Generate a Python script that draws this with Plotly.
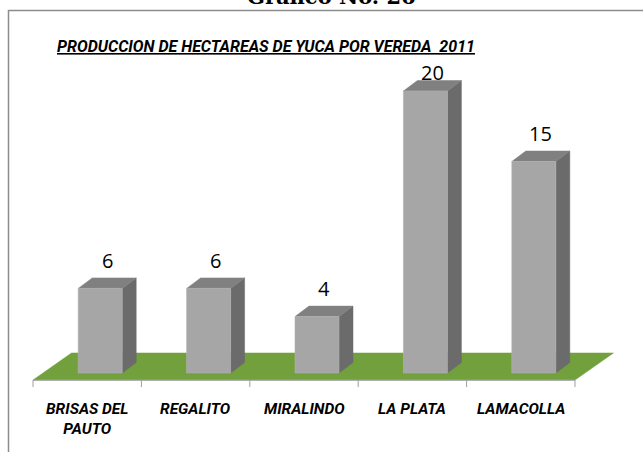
import plotly.graph_objects as go

# ---- data ----
categories = ["BRISAS DEL<br>PAUTO", "REGALITO", "MIRALINDO", "LA PLATA", "LAMACOLLA"]
values = [6, 6, 4, 20, 15]
title_text = "PRODUCCION DE HECTAREAS DE YUCA POR VEREDA  2011"
header_text = "Gráfico No. 26"

# ---- 3D geometry (in axis units) ----
W, H = 643, 452
PX_X = 108.4          # px per category
PX_Y = 14.1           # px per value unit
X0_PX = 87.2          # px of first category centre on the front edge
Y0_PX = 373.0         # px of value 0

bar_shift = 0.12      # bars sit back into the floor
bar_w = 0.406
side_dx, side_dy = 0.129, 0.745       # bar depth vector
floor_front = -0.5
floor_dx, floor_dy = 0.355, 1.92      # floor depth vector
label_gap = 2.0
label_max = 21.3      # labels are kept inside the plot area
n = len(categories)

x_range = [(0 - X0_PX) / PX_X, (W - X0_PX) / PX_X]
y_range = [(Y0_PX - H) / PX_Y, Y0_PX / PX_Y]

FRONT = "#A6A6A6"
TOP = "#808080"
SIDE = "#6B6B6B"
FLOOR = "#72A03C"

fig = go.Figure()

# floor
fx = [-0.5, n - 0.5, n - 0.5 + floor_dx, -0.5 + floor_dx, -0.5]
fy = [floor_front, floor_front, floor_front + floor_dy, floor_front + floor_dy, floor_front]
fig.add_trace(go.Scatter(x=fx, y=fy, fill="toself", fillcolor=FLOOR, mode="lines",
                         line=dict(color=FLOOR, width=0.5), hoverinfo="skip", showlegend=False))
# front edge line of floor
fig.add_trace(go.Scatter(x=[-0.5, n - 0.5], y=[floor_front, floor_front], mode="lines",
                         line=dict(color="#A0A0A0", width=1.2), hoverinfo="skip", showlegend=False))
# tick marks
tx, ty = [], []
for k in range(n + 1):
    tx += [k - 0.5, k - 0.5, None]
    ty += [floor_front, floor_front - 0.5, None]
fig.add_trace(go.Scatter(x=tx, y=ty, mode="lines", line=dict(color="#A0A0A0", width=1),
                         hoverinfo="skip", showlegend=False))

sx, sy, topx, topy, frx, fry = [], [], [], [], [], []
for i, v in enumerate(values):
    xl = i + bar_shift - bar_w / 2
    xr = i + bar_shift + bar_w / 2
    sx += [xr, xr + side_dx, xr + side_dx, xr, xr, None]
    sy += [0, side_dy, v + side_dy, v, 0, None]
    topx += [xl, xr, xr + side_dx, xl + side_dx, xl, None]
    topy += [v, v, v + side_dy, v + side_dy, v, None]
    frx += [xl, xr, xr, xl, xl, None]
    fry += [0, 0, v, v, 0, None]

fig.add_trace(go.Scatter(x=sx, y=sy, fill="toself", fillcolor=SIDE, mode="lines",
                         line=dict(color=SIDE, width=0.5), hoverinfo="skip", showlegend=False))
fig.add_trace(go.Scatter(x=topx, y=topy, fill="toself", fillcolor=TOP, mode="lines",
                         line=dict(color=TOP, width=0.5), hoverinfo="skip", showlegend=False))
fig.add_trace(go.Scatter(x=frx, y=fry, fill="toself", fillcolor=FRONT, mode="lines",
                         line=dict(color="#B4B4B4", width=0.6), hoverinfo="skip", showlegend=False))

annotations = []
for i, v in enumerate(values):
    annotations.append(dict(x=i + bar_shift + side_dx / 2, y=min(v + label_gap, label_max),
                            xref="x", yref="y", text=str(v), showarrow=False,
                            font=dict(family="Open Sans", size=20, color="#000000")))
for i, c in enumerate(categories):
    annotations.append(dict(x=i, y=-1.8, xref="x", yref="y", yanchor="top",
                            text=c, showarrow=False,
                            font=dict(family="Roboto", size=15.5, color="#000000",
                                      weight="bold", style="italic")))
annotations.append(dict(x=266 / W, y=1 - 35 / H, xref="paper", yref="paper",
                        text="<u>" + title_text + "</u>", showarrow=False,
                        font=dict(family="Roboto", size=16, color="#000000",
                                  weight="bold", style="italic")))
annotations.append(dict(x=331 / W, y=1 - 11 / H, xref="paper", yref="paper", yanchor="bottom",
                        text=header_text, showarrow=False,
                        font=dict(family="DejaVu Serif", size=21, color="#000000", weight="bold")))

shapes = [
    dict(type="line", xref="paper", yref="paper", x0=8.5 / W, x1=8.5 / W, y0=0, y1=1 - 10 / H,
         line=dict(color="#8C8C8C", width=1.5)),
    dict(type="line", xref="paper", yref="paper", x0=8.5 / W, x1=1, y0=1 - 10.5 / H, y1=1 - 10.5 / H,
         line=dict(color="#8C8C8C", width=1.5)),
]

fig.update_layout(
    width=W, height=H,
    margin=dict(l=0, r=0, t=0, b=0),
    paper_bgcolor="white", plot_bgcolor="white",
    xaxis=dict(range=x_range, visible=False, fixedrange=True),
    yaxis=dict(range=y_range, visible=False, fixedrange=True),
    annotations=annotations, shapes=shapes,
    showlegend=False,
)

fig.write_html("out.html", config={"displayModeBar": False},
               post_script="document.body.style.margin='0';")
